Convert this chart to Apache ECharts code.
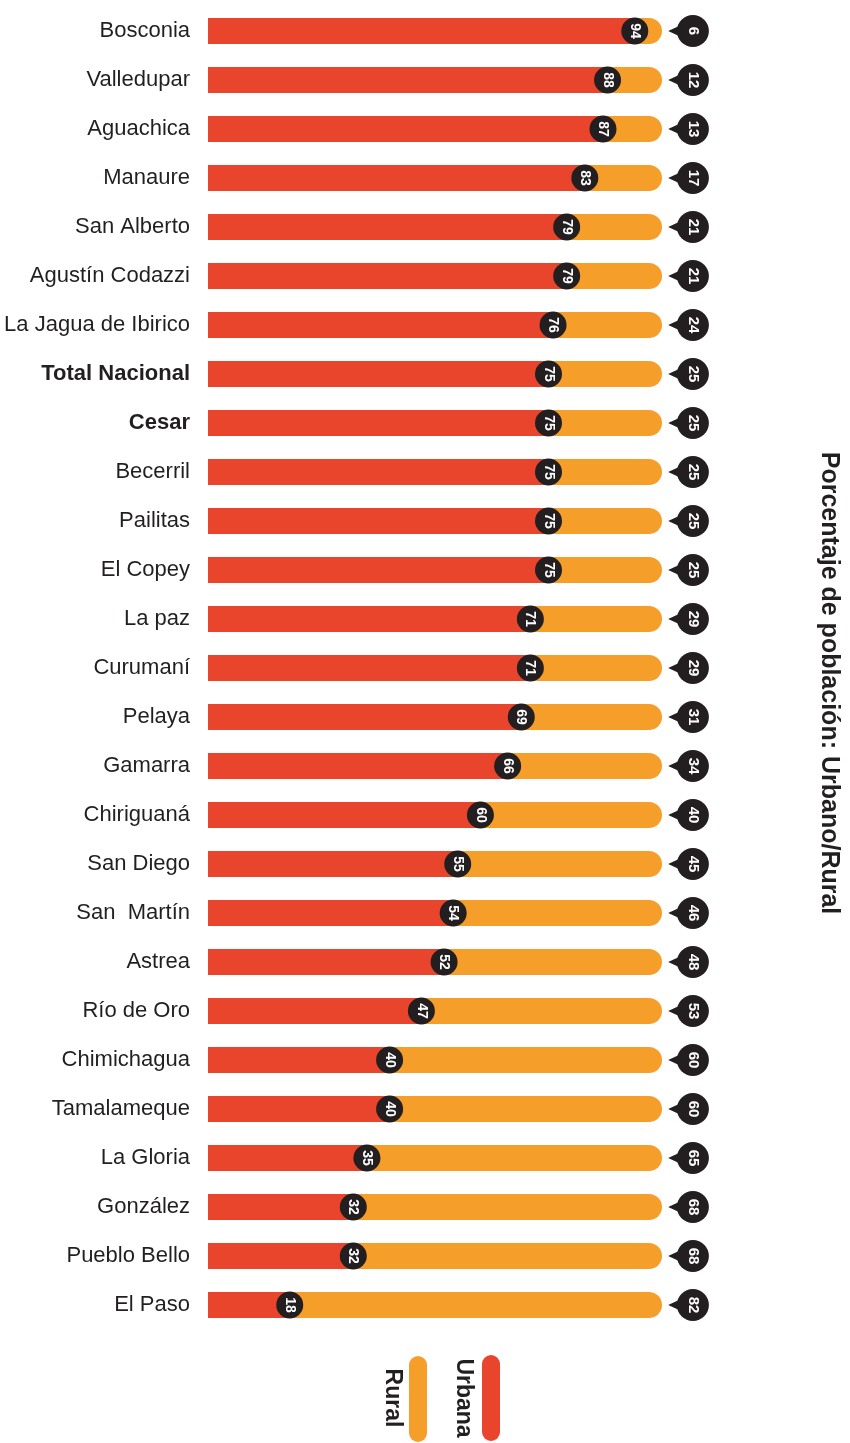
<!DOCTYPE html>
<html>
<head>
<meta charset="utf-8">
<script src="https://cdn.jsdelivr.net/npm/echarts@6/dist/echarts.min.js"></script>
<style>
html, body { margin: 0; padding: 0; background: #fff; }
#chart { width: 850px; height: 1443px; }
</style>
</head>
<body>
<div id="chart"></div>
<script>
// municipios del Cesar, de arriba hacia abajo
var municipios = ['Bosconia', 'Valledupar', 'Aguachica', 'Manaure', 'San Alberto', 'Agustín Codazzi',
	'La Jagua de Ibirico', 'Total Nacional', 'Cesar', 'Becerril', 'Pailitas', 'El Copey', 'La paz',
	'Curumaní', 'Pelaya', 'Gamarra', 'Chiriguaná', 'San Diego', 'San  Martín', 'Astrea', 'Río de Oro',
	'Chimichagua', 'Tamalameque', 'La Gloria', 'González', 'Pueblo Bello', 'El Paso'];
var urbana = [94, 88, 87, 83, 79, 79, 76, 75, 75, 75, 75, 75, 71, 71, 69, 66, 60, 55, 54, 52, 47, 40, 40, 35, 32, 32, 18];
var rural = [6, 12, 13, 17, 21, 21, 24, 25, 25, 25, 25, 25, 29, 29, 31, 34, 40, 45, 46, 48, 53, 60, 60, 65, 68, 68, 82];
var enNegrita = ['Total Nacional', 'Cesar'];

var ROJO = '#e9452c';
var NARANJA = '#f69e2a';
var NEGRO = '#231f20';
var FUENTE = '"Liberation Sans", Arial, sans-serif';

// posicion fija de las burbujas de rural, en unidades del eje
var POS_BURBUJA = 106.8;
var POS_PUNTA = 102.9;

var puntosUrbana = urbana.map(function(v, i) { return [v, i]; });
var puntosRural = rural.map(function(v, i) { return [POS_BURBUJA, i]; });
var puntosPunta = rural.map(function(v, i) { return [POS_PUNTA, i]; });

var etiquetaNumero = function(size) {
	return {
		show: true,
		position: 'inside',
		rotate: -90,
		color: '#fff',
		fontWeight: 'bold',
		fontSize: size,
		fontFamily: FUENTE,
		formatter: function(p) { return p.seriesName == 'ruralNum' ? rural[p.dataIndex] : urbana[p.dataIndex]; }
	};
};

var option = {
	backgroundColor: '#fff',
	animation: false,
	grid: { left: 208, right: 133.5, top: 6.5, bottom: 113.5 },
	xAxis: {
		type: 'value', min: 0, max: 112,
		show: false
	},
	yAxis: {
		type: 'category',
		data: municipios,
		inverse: true,
		axisLine: { show: false },
		axisTick: { show: false },
		axisLabel: {
			margin: 18,
			formatter: function(v) {
				return enNegrita.indexOf(v) >= 0 ? '{b|' + v + '}' : '{n|' + v + '}';
			},
			rich: {
				n: { fontSize: 22, color: NEGRO, fontFamily: FUENTE },
				b: { fontSize: 22, color: NEGRO, fontFamily: FUENTE, fontWeight: 'bold' }
			}
		}
	},
	series: [
		{
			name: 'Urbana', type: 'bar', stack: 'pob', barWidth: 26,
			itemStyle: { color: ROJO },
			data: urbana
		},
		{
			name: 'Rural', type: 'bar', stack: 'pob', barWidth: 26,
			itemStyle: { color: NARANJA, borderRadius: [0, 13, 13, 0] },
			data: rural
		},
		{
			name: 'urbanaNum', type: 'scatter', z: 5,
			symbol: 'circle', symbolSize: 27,
			itemStyle: { color: NEGRO, opacity: 1 },
			label: etiquetaNumero(14),
			data: puntosUrbana
		},
		{
			name: 'punta', type: 'scatter', z: 4,
			symbol: 'triangle', symbolSize: [13, 14], symbolRotate: 90,
			itemStyle: { color: NEGRO, opacity: 1 },
			data: puntosPunta
		},
		{
			name: 'ruralNum', type: 'scatter', z: 5,
			symbol: 'circle', symbolSize: 32,
			itemStyle: { color: NEGRO, opacity: 1 },
			label: etiquetaNumero(15),
			data: puntosRural
		}
	],
	graphic: [
		{
			type: 'text', x: 829, y: 683, rotation: -Math.PI / 2,
			style: {
				text: 'Porcentaje de población: Urbano/Rural',
				fontSize: 25, fontWeight: 'bold', fontFamily: FUENTE, fill: NEGRO,
				align: 'center', verticalAlign: 'middle', textAlign: 'center', textVerticalAlign: 'middle'
			}
		},
		{
			type: 'rect', shape: { x: 482, y: 1355, width: 18, height: 86, r: 9 },
			style: { fill: ROJO }
		},
		{
			type: 'rect', shape: { x: 409, y: 1356, width: 18, height: 86, r: 9 },
			style: { fill: NARANJA }
		},
		{
			type: 'text', x: 463, y: 1398, rotation: -Math.PI / 2,
			style: {
				text: 'Urbana', fontSize: 23, fontWeight: 'bold', fontFamily: FUENTE, fill: NEGRO,
				align: 'center', verticalAlign: 'middle', textAlign: 'center', textVerticalAlign: 'middle'
			}
		},
		{
			type: 'text', x: 392, y: 1398, rotation: -Math.PI / 2,
			style: {
				text: 'Rural', fontSize: 23, fontWeight: 'bold', fontFamily: FUENTE, fill: NEGRO,
				align: 'center', verticalAlign: 'middle', textAlign: 'center', textVerticalAlign: 'middle'
			}
		}
	]
};

var myChart = echarts.init(document.getElementById('chart'));
myChart.setOption(option);
</script>
</body>
</html>
